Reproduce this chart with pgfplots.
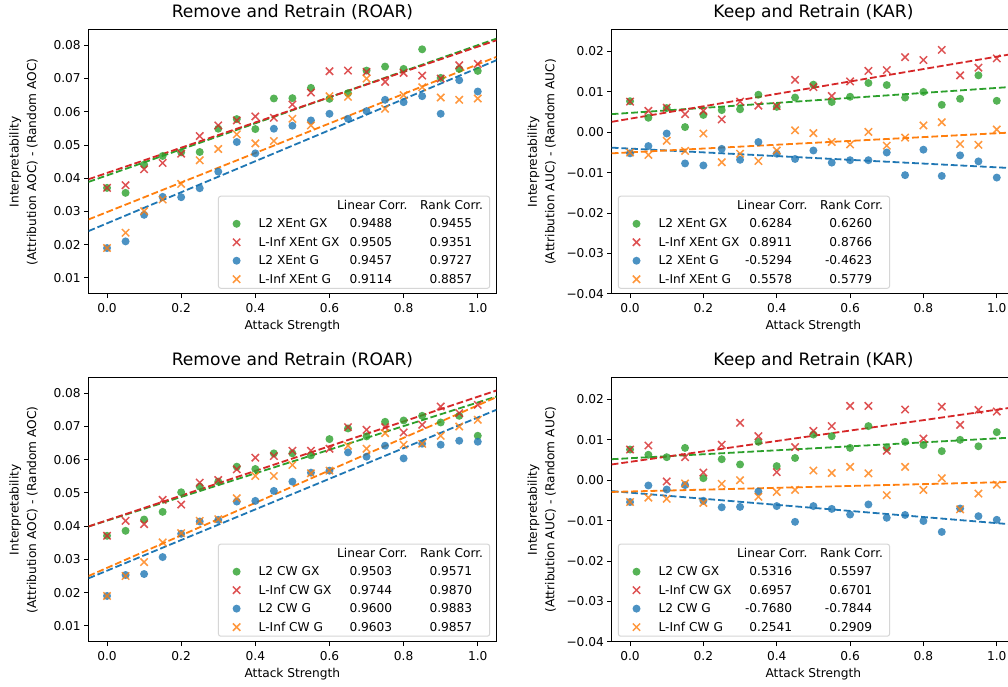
\documentclass[border=0pt]{standalone}
\usepackage{fontspec}
\setmainfont{DejaVu Sans}
\usepackage{pgfplots}
\usepackage{pgfplotstable}
\pgfplotsset{compat=1.18}

\definecolor{tabblue}{HTML}{1F77B4}
\definecolor{taborange}{HTML}{FF7F0E}
\definecolor{tabgreen}{HTML}{2CA02C}
\definecolor{tabred}{HTML}{D62728}

% columns: x, g = L2 GX (green), r = L-Inf GX (red), b = L2 G (blue), o = L-Inf G (orange)
\pgfplotstableread{
x    g      r      b       o
0.00 0.0371 0.0371 0.0190 0.0190
0.05 0.0356 0.0379 0.0210 0.0236
0.10 0.0441 0.0427 0.0290 0.0301
0.15 0.0467 0.0446 0.0344 0.0336
0.20 0.0478 0.0474 0.0343 0.0383
0.25 0.0479 0.0527 0.0370 0.0454
0.30 0.0549 0.0559 0.0420 0.0488
0.35 0.0578 0.0574 0.0509 0.0532
0.40 0.0548 0.0586 0.0475 0.0505
0.45 0.0640 0.0582 0.0549 0.0512
0.50 0.0641 0.0622 0.0558 0.0579
0.55 0.0672 0.0658 0.0574 0.0559
0.60 0.0639 0.0722 0.0594 0.0647
0.65 0.0656 0.0724 0.0579 0.0645
0.70 0.0724 0.0720 0.0602 0.0700
0.75 0.0736 0.0690 0.0636 0.0609
0.80 0.0729 0.0717 0.0629 0.0650
0.85 0.0788 0.0709 0.0647 0.0674
0.90 0.0702 0.0700 0.0594 0.0643
0.95 0.0729 0.0740 0.0695 0.0636
1.00 0.0723 0.0744 0.0661 0.0640
}\dataA

\pgfplotstableread{
x    g       r       b       o
0.00 0.0077 0.0076 -0.0052 -0.0050
0.05 0.0036 0.0053 -0.0034 -0.0056
0.10 0.0060 0.0061 -0.0003 -0.0021
0.15 0.0013 0.0045 -0.0077 -0.0046
0.20 0.0043 0.0053 -0.0082 -0.0003
0.25 0.0055 0.0032 -0.0041 -0.0074
0.30 0.0057 0.0076 -0.0068 -0.0053
0.35 0.0093 0.0066 -0.0024 -0.0071
0.40 0.0063 0.0065 -0.0053 -0.0045
0.45 0.0086 0.0130 -0.0066 0.0005
0.50 0.0118 0.0112 -0.0045 -0.0002
0.55 0.0075 0.0090 -0.0075 -0.0024
0.60 0.0088 0.0126 -0.0069 -0.0030
0.65 0.0122 0.0152 -0.0069 0.0001
0.70 0.0117 0.0154 -0.0050 -0.0033
0.75 0.0086 0.0186 -0.0106 -0.0013
0.80 0.0100 0.0179 -0.0043 0.0017
0.85 0.0068 0.0204 -0.0108 0.0025
0.90 0.0083 0.0141 -0.0057 -0.0029
0.95 0.0141 0.0160 -0.0072 -0.0031
1.00 0.0078 0.0183 -0.0112 0.0007
}\dataB

\pgfplotstableread{
x    g      r      b      o
0.00 0.0371 0.0371 0.0190 0.0190
0.05 0.0386 0.0416 0.0253 0.0250
0.10 0.0420 0.0406 0.0256 0.0292
0.15 0.0443 0.0479 0.0307 0.0351
0.20 0.0502 0.0465 0.0377 0.0379
0.25 0.0519 0.0531 0.0414 0.0416
0.30 0.0534 0.0539 0.0419 0.0421
0.35 0.0579 0.0571 0.0474 0.0484
0.40 0.0572 0.0606 0.0476 0.0551
0.45 0.0619 0.0611 0.0506 0.0551
0.50 0.0619 0.0627 0.0534 0.0584
0.55 0.0613 0.0627 0.0561 0.0559
0.60 0.0662 0.0633 0.0567 0.0567
0.65 0.0694 0.0698 0.0622 0.0642
0.70 0.0670 0.0690 0.0609 0.0633
0.75 0.0714 0.0698 0.0642 0.0680
0.80 0.0718 0.0682 0.0604 0.0645
0.85 0.0732 0.0705 0.0648 0.0648
0.90 0.0712 0.0760 0.0645 0.0672
0.95 0.0732 0.0740 0.0657 0.0700
1.00 0.0672 0.0765 0.0654 0.0720
}\dataC

\pgfplotstableread{
x    g       r       b       o
0.00 0.0076 0.0076 -0.0054 -0.0054
0.05 0.0063 0.0086 -0.0013 -0.0043
0.10 0.0057 -0.0003 -0.0023 -0.0046
0.15 0.0080 0.0057 -0.0012 -0.0008
0.20 0.0005 0.0019 -0.0051 -0.0056
0.25 0.0052 0.0088 -0.0067 -0.0009
0.30 0.0039 0.0142 -0.0066 0.0000
0.35 0.0095 0.0109 -0.0028 -0.0041
0.40 0.0035 0.0020 -0.0064 -0.0029
0.45 0.0055 0.0082 -0.0103 -0.0024
0.50 0.0113 0.0122 -0.0064 0.0024
0.55 0.0109 0.0134 -0.0071 0.0018
0.60 0.0080 0.0184 -0.0085 0.0033
0.65 0.0134 0.0184 -0.0060 0.0017
0.70 0.0080 0.0073 -0.0093 -0.0037
0.75 0.0095 0.0175 -0.0086 0.0033
0.80 0.0087 0.0103 -0.0101 -0.0024
0.85 0.0072 0.0182 -0.0128 0.0005
0.90 0.0100 0.0137 -0.0070 -0.0072
0.95 0.0084 0.0174 -0.0089 -0.0033
1.00 0.0119 0.0170 -0.0098 -0.0011
}\dataD

\newcommand{\lhdr}{\makebox[226pt][l]{\rlap{\hspace{78.5pt}Linear Corr.}\rlap{\hspace{161.5pt}Rank Corr.}}}
\newcommand{\lrow}[3]{\makebox[226pt][l]{\rlap{#1}\rlap{\hspace{133.5pt}\llap{#2}}\rlap{\hspace{213.5pt}\llap{#3}}}}

\pgfplotsset{
  myaxis/.style={
    scale only axis,
    anchor=north west,
    xmin=-0.05, xmax=1.05,
    xtick={0,0.2,0.4,0.6,0.8,1},
    xticklabels={0.0,0.2,0.4,0.6,0.8,1.0},
    scaled ticks=false,
    tick align=outside,
    tick pos=left,
    major tick length=4.3pt,
    tick style={black, line width=1pt},
    axis line style={black, line width=1pt},
    ticklabel style={font=\fontsize{12.2}{14}\selectfont},
    xticklabel style={anchor=north, inner sep=0pt},
    xticklabel shift=5.5pt,
    yticklabel style={anchor=east, inner sep=0pt, xshift=-3.3pt},
    title style={font=\fontsize{17.1}{20}\selectfont, at={(axis description cs:0.5,1)}, anchor=base, yshift=5.9pt},
    xlabel style={font=\fontsize{12.2}{14}\selectfont, at={(axis description cs:0.5,0)}, anchor=base, yshift=-35.6pt},
    ylabel style={font=\fontsize{12.2}{17.6}\selectfont, align=center, anchor=center},
    xlabel={Attack Strength},
    legend cell align=left,
    legend style={font=\fontsize{12.2}{14}\selectfont, draw={rgb,255:red,204;green,204;blue,204}, line width=1pt, rounded corners=2.4pt, fill=white, fill opacity=0.8, draw opacity=0.8, text opacity=1, inner xsep=5pt, inner ysep=2pt, /tikz/row sep=4.27pt, /tikz/column sep=13.6pt, nodes={inner sep=0pt, text height=11.3pt, text depth=2.9pt}},
  },
  circ/.style={only marks, mark=*, color=#1, mark size=4pt, mark options={fill=#1, fill opacity=0.8, draw opacity=0},
    legend image code/.code={\path (-12.7pt,0pt) (8pt,0pt); \draw[##1] plot coordinates {(0pt,0pt)};}},
  crs/.style={only marks, mark=x, color=#1, mark size=5.2pt, mark options={line width=1.5pt, draw opacity=0.8},
    legend image code/.code={\path (-12.7pt,0pt) (8pt,0pt); \draw[##1] plot coordinates {(0pt,0pt)};}},
  fit/.style={no marks, color=#1, line width=1.8pt, dash pattern=on 6.8pt off 2.9pt, forget plot},
}

\begin{document}
\begin{tikzpicture}
\fill[white] (0pt,0pt) rectangle (1008pt,-686pt);

% ---------- top left ----------
\begin{axis}[myaxis, at={(88.5pt,-29.7pt)}, width=407.8pt, height=264.2pt,
  ymin=0.0052, ymax=0.0847,
  ytick={0.01,0.02,0.03,0.04,0.05,0.06,0.07,0.08},
  yticklabels={0.01,0.02,0.03,0.04,0.05,0.06,0.07,0.08},
  title={Remove and Retrain (ROAR)},
  ylabel={Interpretability\\(Attribution AOC) - (Random AOC)},
  ylabel style={at={(axis description cs:-0.1594,0.5)}},
  legend style={at={(axis description cs:1,0)}, anchor=south east, xshift=-6.1pt, yshift=5.1pt}]
\addlegendimage{empty legend}\addlegendentry{\lhdr}
\addplot[circ=tabgreen] table[x=x,y=g]{\dataA};
\addlegendentry{\lrow{L2 XEnt GX}{0.9488}{0.9455}}
\addplot[fit=tabgreen] coordinates {(-0.05,0.0389) (1.05,0.0820)};
\addplot[crs=tabred] table[x=x,y=r]{\dataA};
\addlegendentry{\lrow{L-Inf XEnt GX}{0.9505}{0.9351}}
\addplot[fit=tabred] coordinates {(-0.05,0.0397) (1.05,0.0815)};
\addplot[circ=tabblue] table[x=x,y=b]{\dataA};
\addlegendentry{\lrow{L2 XEnt G}{0.9457}{0.9727}}
\addplot[fit=tabblue] coordinates {(-0.05,0.0241) (1.05,0.0755)};
\addplot[crs=taborange] table[x=x,y=o]{\dataA};
\addlegendentry{\lrow{L-Inf XEnt G}{0.9114}{0.8857}}
\addplot[fit=taborange] coordinates {(-0.05,0.0276) (1.05,0.0765)};
\end{axis}

% ---------- top right ----------
\begin{axis}[myaxis, at={(611.7pt,-29.7pt)}, width=403.4pt, height=264.2pt,
  ymin=-0.04, ymax=0.0254,
  ytick={-0.04,-0.03,-0.02,-0.01,0,0.01,0.02},
  yticklabels={−0.04,−0.03,−0.02,−0.01,0.00,0.01,0.02},
  title={Keep and Retrain (KAR)},
  ylabel={Interpretability\\(Attribution AUC) - (Random AUC)},
  ylabel style={at={(axis description cs:-0.1733,0.5)}},
  legend style={at={(axis description cs:0,0)}, anchor=south west, xshift=6.1pt, yshift=5.1pt}]
\addlegendimage{empty legend}\addlegendentry{\lhdr}
\addplot[circ=tabgreen] table[x=x,y=g]{\dataB};
\addlegendentry{\lrow{L2 XEnt GX}{0.6284}{0.6260}}
\addplot[fit=tabgreen] coordinates {(-0.05,0.0045) (1.05,0.0113)};
\addplot[crs=tabred] table[x=x,y=r]{\dataB};
\addlegendentry{\lrow{L-Inf XEnt GX}{0.8911}{0.8766}}
\addplot[fit=tabred] coordinates {(-0.05,0.0026) (1.05,0.0195)};
\addplot[circ=tabblue] table[x=x,y=b]{\dataB};
\addlegendentry{\lrow{L2 XEnt G}{-0.5294}{-0.4623}}
\addplot[fit=tabblue] coordinates {(-0.05,-0.0038) (1.05,-0.0089)};
\addplot[crs=taborange] table[x=x,y=o]{\dataB};
\addlegendentry{\lrow{L-Inf XEnt G}{0.5578}{0.5779}}
\addplot[fit=taborange] coordinates {(-0.05,-0.0052) (1.05,0.0000)};
\end{axis}

% ---------- bottom left ----------
\begin{axis}[myaxis, at={(88.5pt,-377.6pt)}, width=407.8pt, height=264.2pt,
  ymin=0.0052, ymax=0.0847,
  ytick={0.01,0.02,0.03,0.04,0.05,0.06,0.07,0.08},
  yticklabels={0.01,0.02,0.03,0.04,0.05,0.06,0.07,0.08},
  title={Remove and Retrain (ROAR)},
  ylabel={Interpretability\\(Attribution AOC) - (Random AOC)},
  ylabel style={at={(axis description cs:-0.1594,0.5)}},
  legend style={at={(axis description cs:1,0)}, anchor=south east, xshift=-6.1pt, yshift=5.1pt}]
\addlegendimage{empty legend}\addlegendentry{\lhdr}
\addplot[circ=tabgreen] table[x=x,y=g]{\dataC};
\addlegendentry{\lrow{L2 CW GX}{0.9503}{0.9571}}
\addplot[fit=tabgreen] coordinates {(-0.05,0.0399) (1.05,0.0790)};
\addplot[crs=tabred] table[x=x,y=r]{\dataC};
\addlegendentry{\lrow{L-Inf CW GX}{0.9744}{0.9870}}
\addplot[fit=tabred] coordinates {(-0.05,0.0399) (1.05,0.0808)};
\addplot[circ=tabblue] table[x=x,y=b]{\dataC};
\addlegendentry{\lrow{L2 CW G}{0.9600}{0.9883}}
\addplot[fit=tabblue] coordinates {(-0.05,0.0243) (1.05,0.0750)};
\addplot[crs=taborange] table[x=x,y=o]{\dataC};
\addlegendentry{\lrow{L-Inf CW G}{0.9603}{0.9857}}
\addplot[fit=taborange] coordinates {(-0.05,0.0250) (1.05,0.0788)};
\end{axis}

% ---------- bottom right ----------
\begin{axis}[myaxis, at={(611.7pt,-377.6pt)}, width=403.4pt, height=264.2pt,
  ymin=-0.04, ymax=0.0254,
  ytick={-0.04,-0.03,-0.02,-0.01,0,0.01,0.02},
  yticklabels={−0.04,−0.03,−0.02,−0.01,0.00,0.01,0.02},
  title={Keep and Retrain (KAR)},
  ylabel={Interpretability\\(Attribution AUC) - (Random AUC)},
  ylabel style={at={(axis description cs:-0.1733,0.5)}},
  legend style={at={(axis description cs:0,0)}, anchor=south west, xshift=6.1pt, yshift=5.1pt}]
\addlegendimage{empty legend}\addlegendentry{\lhdr}
\addplot[circ=tabgreen] table[x=x,y=g]{\dataD};
\addlegendentry{\lrow{L2 CW GX}{0.5316}{0.5597}}
\addplot[fit=tabgreen] coordinates {(-0.05,0.0052) (1.05,0.0106)};
\addplot[crs=tabred] table[x=x,y=r]{\dataD};
\addlegendentry{\lrow{L-Inf CW GX}{0.6957}{0.6701}}
\addplot[fit=tabred] coordinates {(-0.05,0.0039) (1.05,0.0181)};
\addplot[circ=tabblue] table[x=x,y=b]{\dataD};
\addlegendentry{\lrow{L2 CW G}{-0.7680}{-0.7844}}
\addplot[fit=tabblue] coordinates {(-0.05,-0.0027) (1.05,-0.0110)};
\addplot[crs=taborange] table[x=x,y=o]{\dataD};
\addlegendentry{\lrow{L-Inf CW G}{0.2541}{0.2909}}
\addplot[fit=taborange] coordinates {(-0.05,-0.0029) (1.05,-0.0004)};
\end{axis}

\pgfresetboundingbox
\path[use as bounding box] (0pt,0pt) rectangle (1008pt,-686pt);
\end{tikzpicture}
\end{document}
